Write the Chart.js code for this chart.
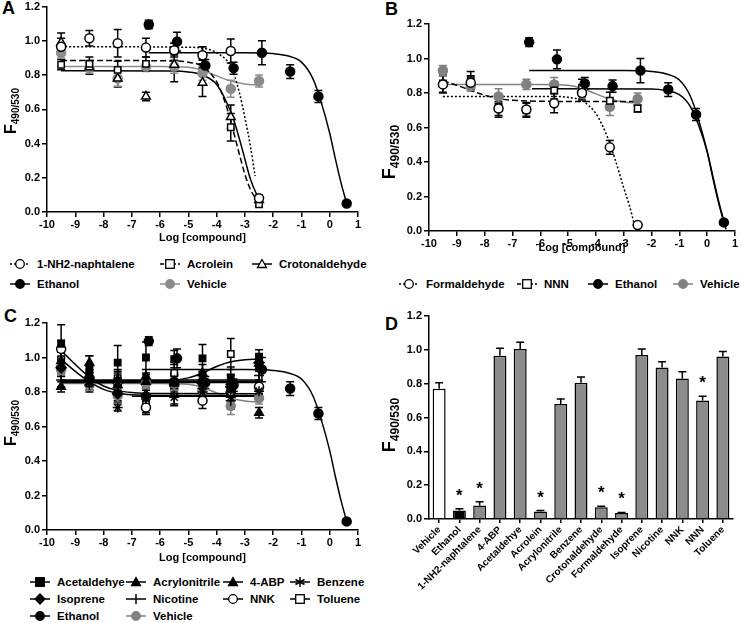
<!DOCTYPE html>
<html>
<head>
<meta charset="utf-8">
<script src="https://cdn.jsdelivr.net/npm/chart.js@4/dist/chart.umd.min.js"></script>
<style>
body{margin:0;width:741px;height:623px;position:relative;background:#fff;overflow:hidden;
  font-family:'Liberation Sans',Arial,sans-serif;font-weight:bold;color:#000}
canvas{position:absolute}
.tag{position:absolute;font-size:18px;line-height:18px}
.lg{position:absolute;font-size:11.5px;line-height:12px;display:flex;align-items:center;white-space:nowrap}
.lg svg{margin-right:7px}
</style>
</head>
<body>
<div class="tag" style="left:2px;top:-1px">A</div>
<div class="tag" style="left:385px;top:0px">B</div>
<div class="tag" style="left:4px;top:307px">C</div>
<div class="tag" style="left:385px;top:315px">D</div>
<canvas id="chartA" width="370" height="250" style="left:0;top:0"></canvas>
<canvas id="chartB" width="371" height="260" style="left:370px;top:0"></canvas>
<canvas id="chartC" width="370" height="270" style="left:0;top:300px"></canvas>
<canvas id="chartD" width="371" height="323" style="left:370px;top:300px"></canvas>
<div id="legends"></div>
<script>
// concentrations (log M) and ethanol (log %) x positions
const logX = [-9.5, -8.5, -7.5, -6.5, -5.5, -4.5, -3.5, -2.5];
const ethX = [-6.4, -5.4, -4.4, -3.4, -2.4, -1.4, -0.4, 0.6];

const ethY   = [1.095, 0.995, 0.855, 0.84, 0.93, 0.82, 0.675, 0.05];
const ethErr = [0.025, 0.055, 0.035, 0.035, 0.07, 0.04, 0.035, 0.005];
const vehY   = [0.93, 0.84, 0.78, 0.85, 0.85, 0.81, 0.72, 0.765];
const vehErr = [0.03, 0.03, 0.045, 0.03, 0.04, 0.04, 0.05, 0.035];

// panel A
const naphY   = [0.965, 1.015, 0.985, 0.96, 0.945, 0.915, 0.94, 0.08];
const naphErr = [0.05, 0.045, 0.08, 0.055, 0.04, 0.05, 0.07, 0.02];
const acroY   = [0.86, 0.865, 0.83, 0.865, 0.935, 0.905, 0.495, 0.045];
const acroErr = [0.03, 0.04, 0.05, 0.04, 0.05, 0.06, 0.08, 0.01];
const crotY   = [0.99, 0.845, 0.78, 0.675, 0.86, 0.755, 0.555, 0.07];
const crotErr = [0.055, 0.04, 0.05, 0.025, 0.1, 0.08, 0.07, 0.02];

// panel B
const formY   = [0.85, 0.86, 0.71, 0.705, 0.74, 0.8, 0.485, 0.035];
const formErr = [0.05, 0.04, 0.04, 0.04, 0.055, 0.04, 0.04, 0.005];
const nnnY    = [0.855, 0.875, 0.72, 0.7, 0.815, 0.83, 0.755, 0.71];
const nnnErr  = [0.05, 0.05, 0.06, 0.04, 0.05, 0.05, 0.05, 0.02];

// panel C
const acetY   = [1.08, 0.93, 0.97, 1.0, 0.99, 0.995, 0.885, 1.005];
const acetErr = [0.11, 0.08, 0.1, 0.09, 0.05, 0.08, 0.06, 0.04];
const acrylY  = [0.98, 0.97, 0.87, 0.89, 0.86, 0.91, 0.86, 0.68];
const acrylErr= [0.05, 0.04, 0.05, 0.04, 0.04, 0.05, 0.04, 0.03];
const abpY    = [0.83, 0.9, 0.84, 0.86, 0.85, 0.88, 0.81, 0.965];
const abpErr  = [0.03, 0.05, 0.04, 0.04, 0.05, 0.04, 0.04, 0.045];
const benzY   = [0.95, 0.86, 0.71, 0.77, 0.77, 0.8, 0.77, 0.805];
const benzErr = [0.05, 0.05, 0.02, 0.05, 0.05, 0.04, 0.05, 0.035];
const isopY   = [0.94, 0.87, 0.79, 0.78, 0.86, 0.85, 0.83, 0.97];
const isopErr = [0.05, 0.04, 0.05, 0.05, 0.05, 0.04, 0.04, 0.035];
const nicoY   = [0.87, 0.84, 0.8, 0.76, 0.78, 0.82, 0.75, 0.895];
const nicoErr = [0.04, 0.04, 0.05, 0.05, 0.05, 0.04, 0.05, 0.035];
const nnkY    = [1.05, 0.88, 0.86, 0.71, 0.86, 0.75, 0.8, 0.83];
const nnkErr  = [0.05, 0.04, 0.05, 0.04, 0.04, 0.045, 0.05, 0.04];
const tolY    = [0.99, 0.85, 0.88, 0.73, 0.91, 0.85, 1.02, 0.96];
const tolErr  = [0.05, 0.04, 0.05, 0.05, 0.05, 0.05, 0.09, 0.03];

// fitted curves
const ethFitX  = [-6.4, -3, -2, -1.5, -1, -0.6, -0.3, 0, 0.2, 0.4, 0.6];
const ethFitY  = [0.93, 0.93, 0.925, 0.912, 0.875, 0.78, 0.64, 0.46, 0.31, 0.17, 0.05];
const eth2FitX = [-6.3, -2, -1.5, -1, -0.6, -0.3, 0, 0.2, 0.4, 0.68];
const eth2FitY = [0.825, 0.823, 0.815, 0.79, 0.72, 0.61, 0.46, 0.32, 0.18, 0.01];
const vehFitX  = [-9.5, -6, -5, -4.5, -4, -3.5, -3, -2.5];
const vehFitY  = [0.85, 0.85, 0.845, 0.827, 0.795, 0.765, 0.748, 0.742];
const naphFitX = [-9.5, -5, -4.3, -3.9, -3.5, -3.2, -3.0, -2.8, -2.64];
const naphFitY = [0.965, 0.962, 0.95, 0.92, 0.85, 0.7, 0.55, 0.38, 0.21];
const acroFitX = [-9.5, -5.5, -5, -4.5, -4, -3.7, -3.5, -3.2, -3, -2.8, -2.5];
const acroFitY = [0.885, 0.882, 0.875, 0.85, 0.76, 0.64, 0.53, 0.34, 0.22, 0.13, 0.05];
const crotFitX = [-9.5, -5.5, -5, -4.5, -4, -3.7, -3.4, -3.1, -2.8, -2.5];
const crotFitY = [0.825, 0.824, 0.818, 0.8, 0.745, 0.66, 0.54, 0.37, 0.19, 0.07];
const formFitX = [-9.5, -5.6, -5, -4.5, -4, -3.6, -3.3, -3, -2.8, -2.62];
const formFitY = [0.78, 0.78, 0.775, 0.755, 0.68, 0.55, 0.41, 0.25, 0.15, 0.04];
const nnnFitX  = [-9.5, -9, -8.5, -8, -7.5, -7, -6, -2.5];
const nnnFitY  = [0.87, 0.845, 0.815, 0.787, 0.767, 0.758, 0.752, 0.75];
const acetFitX = [-9.5, -6.5, -5.5, -5, -4.5, -4, -3.5, -3, -2.5];
const acetFitY = [0.865, 0.865, 0.87, 0.882, 0.91, 0.948, 0.975, 0.987, 0.99];
const abpFitX  = [-9.5, -2.5];
const abpFitY  = [0.87, 0.87];
const isopFitX = [-9.5, -2.5];
const isopFitY = [0.862, 0.862];
const acrylFitX= [-9.5, -2.5];
const acrylFitY= [0.855, 0.855];
const nnkFitX  = [-9.5, -9, -8.5, -8, -7.5, -7, -6, -2.5];
const nnkFitY  = [1.04, 0.96, 0.885, 0.835, 0.808, 0.797, 0.791, 0.79];
const nicoFitX = [-9.5, -9, -8.5, -8, -7.5, -7, -6, -2.5];
const nicoFitY = [0.99, 0.92, 0.86, 0.815, 0.793, 0.784, 0.78, 0.78];
const benzFitX = [-7, -2.5];
const benzFitY = [0.775, 0.775];

// panel D (highest concentration)
const barLabels = ['Vehicle', 'Ethanol', '1-NH2-naphtalene', '4-ABP', 'Acetaldehye', 'Acrolein',
  'Acrylonitrile', 'Benzene', 'Crotonaldehyde', 'Formaldehyde', 'Isoprene', 'Nicotine', 'NNK', 'NNN', 'Toluene'];
const barValues = [0.77, 0.05, 0.08, 0.965, 1.005, 0.045, 0.68, 0.805, 0.07, 0.035, 0.97, 0.895, 0.83, 0.70, 0.96];
const barErr    = [0.035, 0.01, 0.022, 0.045, 0.04, 0.005, 0.03, 0.035, 0.005, 0.004, 0.035, 0.035, 0.04, 0.025, 0.03];
const barStar   = [false, true, true, false, false, true, false, false, true, true, false, false, false, true, false];

const FONT = "'Liberation Sans', Arial, sans-serif";
const GRAY = '#8c8c8c';
const DOT = [2, 2];
const DASH = [6, 3];

function pts(xs, ys) {
    return xs.map((x, i) => ({x: x, y: ys[i]}));
}
function marks(xs, ys, err, style, fill, color, r) {
    return {data: pts(xs, ys), err: err, showLine: false, pointStyle: style,
        pointRadius: r || 4, pointHoverRadius: r || 4, backgroundColor: fill,
        borderColor: color, borderWidth: 1.5};
}
function fit(xs, ys, dash, color) {
    return {data: pts(xs, ys), showLine: true, pointRadius: 0, pointHoverRadius: 0,
        borderColor: color || '#000', borderWidth: 1.5, borderDash: dash || [],
        cubicInterpolationMode: 'monotone', fill: false};
}

// error bars drawn through the y scale
const errorBars = {
    id: 'errorBars',
    beforeDatasetsDraw(chart) {
        if (chart.config.type === 'bar') return;
        drawErr(chart, false);
    },
    afterDatasetsDraw(chart) {
        if (chart.config.type !== 'bar') return;
        drawErr(chart, true);
    }
};
function drawErr(chart, upOnly) {
    const ctx = chart.ctx, ys = chart.scales.y;
    chart.data.datasets.forEach((ds, i) => {
        if (!ds.err) return;
        const meta = chart.getDatasetMeta(i);
        ctx.save();
        ctx.lineWidth = 1.5;
        meta.data.forEach((el, j) => {
            const v = typeof ds.data[j] === 'object' ? ds.data[j].y : ds.data[j];
            const top = ys.getPixelForValue(v + ds.err[j]);
            const bot = upOnly ? ys.getPixelForValue(v) : ys.getPixelForValue(v - ds.err[j]);
            ctx.strokeStyle = upOnly ? '#000' : ds.borderColor;
            ctx.beginPath();
            ctx.moveTo(el.x, top); ctx.lineTo(el.x, bot);
            ctx.moveTo(el.x - 4, top); ctx.lineTo(el.x + 4, top);
            if (!upOnly) { ctx.moveTo(el.x - 4, bot); ctx.lineTo(el.x + 4, bot); }
            ctx.stroke();
            if (upOnly && ds.star && ds.star[j]) {
                ctx.fillStyle = '#000';
                ctx.font = 'bold 17px ' + FONT;
                ctx.textAlign = 'center';
                ctx.textBaseline = 'alphabetic';
                ctx.fillText('*', el.x, top - 8);
            }
        });
        ctx.restore();
    });
}

// rotated F490/530 title with subscript
const yTitle = {
    id: 'yTitle',
    afterDraw(chart, args, o) {
        const ctx = chart.ctx;
        ctx.save();
        ctx.translate(o.x, o.y);
        ctx.rotate(-Math.PI / 2);
        ctx.fillStyle = '#000';
        ctx.textBaseline = 'alphabetic';
        ctx.textAlign = 'left';
        ctx.font = 'bold ' + o.big + 'px ' + FONT;
        const wF = ctx.measureText('F').width;
        ctx.font = 'bold ' + o.small + 'px ' + FONT;
        const wS = ctx.measureText('490/530').width;
        const start = -(wF + wS) / 2;
        const base = o.big * 0.36;
        ctx.font = 'bold ' + o.big + 'px ' + FONT;
        ctx.fillText('F', start, base);
        ctx.font = 'bold ' + o.small + 'px ' + FONT;
        ctx.fillText('490/530', start + wF, base + o.small * 0.3);
        ctx.restore();
    }
};

const tickFont = {family: FONT, size: 11, weight: 'bold'};

function xLog(h) {
    return {
        type: 'linear', min: -10, max: 1,
        ticks: {stepSize: 1, color: '#000', font: tickFont, padding: 1},
        grid: {drawOnChartArea: false, color: '#000', lineWidth: 1.5, tickLength: 5},
        border: {color: '#000', width: 1.5},
        title: {display: true, text: 'Log [compound]', color: '#000',
            font: {family: FONT, size: 11, weight: 'bold'}, padding: {top: 0, bottom: 5}},
        afterFit(s) { s.height = h; s.paddingLeft = 0; s.paddingRight = 0; }
    };
}
function yF(w) {
    return {
        type: 'linear', min: 0, max: 1.2,
        ticks: {stepSize: 0.2, color: '#000', font: tickFont, padding: 2, callback: v => v.toFixed(1)},
        grid: {drawOnChartArea: false, color: '#000', lineWidth: 1.5, tickLength: 5},
        border: {color: '#000', width: 1.5},
        afterFit(s) { s.width = w; s.paddingTop = 0; s.paddingBottom = 0; }
    };
}
function baseOptions(pad, xScale, yScale, title) {
    return {
        responsive: false, animation: false,
        layout: {padding: pad},
        scales: {x: xScale, y: yScale},
        plugins: {legend: {display: false}, tooltip: {enabled: false}, yTitle: title}
    };
}

// A
new Chart(document.getElementById('chartA'), {
    type: 'scatter',
    data: {datasets: [
        marks(ethX, ethY, ethErr, 'circle', '#000', '#000', 4.5),
        marks(logX, naphY, naphErr, 'circle', '#fff', '#000', 4.5),
        marks(logX, acroY, acroErr, 'rect', '#fff', '#000', 4.5),
        marks(logX, crotY, crotErr, 'triangle', '#fff', '#000', 5),
        marks(logX, vehY, vehErr, 'circle', GRAY, GRAY, 4.5),
        fit(ethFitX, ethFitY),
        fit(naphFitX, naphFitY, DOT),
        fit(acroFitX, acroFitY, DASH),
        fit(crotFitX, crotFitY),
        fit(vehFitX, vehFitY, [], GRAY)
    ]},
    options: baseOptions({top: 5, right: 12, left: 0, bottom: 0}, xLog(38), yF(47),
        {x: 10, y: 111, big: 16, small: 10}),
    plugins: [errorBars, yTitle]
});

// B
new Chart(document.getElementById('chartB'), {
    type: 'scatter',
    data: {datasets: [
        marks(ethX, ethY, ethErr, 'circle', '#000', '#000', 4.5),
        marks(logX, formY, formErr, 'circle', '#fff', '#000', 4.5),
        marks(logX, nnnY, nnnErr, 'rect', '#fff', '#000', 4.5),
        marks(logX, vehY, vehErr, 'circle', '#808080', '#808080', 4.5),
        fit(ethFitX, ethFitY),
        fit(eth2FitX, eth2FitY),
        fit(formFitX, formFitY, DOT),
        fit(nnnFitX, nnnFitY, DASH),
        fit(vehFitX, vehFitY, [], '#808080')
    ]},
    options: baseOptions({top: 24, right: 2, left: 0, bottom: 0}, xLog(29), yF(59),
        {x: 19, y: 152, big: 18, small: 12}),
    plugins: [errorBars, yTitle]
});

// C
new Chart(document.getElementById('chartC'), {
    type: 'scatter',
    data: {datasets: [
        marks(ethX, ethY, ethErr, 'circle', '#000', '#000', 4.5),
        marks(logX, acetY, acetErr, 'rect', '#000', '#000', 4.5),
        marks(logX, acrylY, acrylErr, 'triangle', '#000', '#000', 5),
        marks(logX, abpY, abpErr, 'triangle', '#000', '#000', 5),
        marks(logX, benzY, benzErr, 'star', '#000', '#000', 5),
        marks(logX, isopY, isopErr, 'rectRot', '#000', '#000', 5),
        marks(logX, nicoY, nicoErr, 'cross', '#000', '#000', 5),
        marks(logX, nnkY, nnkErr, 'circle', '#fff', '#000', 4.5),
        marks(logX, tolY, tolErr, 'rect', '#fff', '#000', 4.5),
        marks(logX, vehY, vehErr, 'circle', '#808080', '#808080', 4.5),
        fit(ethFitX, ethFitY),
        fit(acetFitX, acetFitY),
        fit(abpFitX, abpFitY),
        fit(isopFitX, isopFitY),
        fit(acrylFitX, acrylFitY),
        fit(nnkFitX, nnkFitY),
        fit(nicoFitX, nicoFitY),
        fit(benzFitX, benzFitY),
        fit(vehFitX, vehFitY, [], '#808080')
    ]},
    options: baseOptions({top: 23, right: 12, left: 0, bottom: 0}, xLog(40), yF(47),
        {x: 10, y: 123, big: 16, small: 10}),
    plugins: [errorBars, yTitle]
});

// D
const barColors = barLabels.map(l => l === 'Vehicle' ? '#fff' : (l === 'Ethanol' ? '#000' : GRAY));
const dOpts = baseOptions({top: 16, right: 8, left: 0, bottom: 0}, {
    type: 'category',
    ticks: {color: '#000', font: {family: FONT, size: 10, weight: 'bold'}, minRotation: 45, maxRotation: 45,
        autoSkip: false, padding: 1},
    grid: {drawOnChartArea: false, offset: false, color: '#000', lineWidth: 1.5, tickLength: 4},
    border: {color: '#000', width: 1.5},
    afterFit(s) { s.height = 104; s.paddingLeft = 0; s.paddingRight = 0; }
}, yF(59), {x: 19, y: 125, big: 18, small: 12});
new Chart(document.getElementById('chartD'), {
    type: 'bar',
    data: {labels: barLabels, datasets: [{
        data: barValues, err: barErr, star: barStar,
        backgroundColor: barColors, borderColor: '#000', borderWidth: 1.5,
        categoryPercentage: 1, barPercentage: 0.64
    }]},
    options: dOpts,
    plugins: [errorBars, yTitle]
});

// legends
function sym(shape, fill, color, dash) {
    let s = '<svg width="20" height="12" viewBox="0 0 20 12">' +
        '<line x1="0" y1="6" x2="20" y2="6" stroke="' + color + '" stroke-width="1.5"' +
        (dash ? ' stroke-dasharray="' + dash + '"' : '') + '/>';
    const st = ' fill="' + fill + '" stroke="' + color + '" stroke-width="1.3"';
    if (shape === 'circle') s += '<circle cx="10" cy="6" r="4.3"' + st + '/>';
    if (shape === 'rect') s += '<rect x="5.7" y="1.7" width="8.6" height="8.6"' + st + '/>';
    if (shape === 'triangle') s += '<polygon points="10,1.5 14.5,9.5 5.5,9.5"' + st + '/>';
    if (shape === 'rectRot') s += '<polygon points="10,1 15,6 10,11 5,6"' + st + '/>';
    if (shape === 'cross') s += '<line x1="10" y1="1" x2="10" y2="11" stroke="' + color + '" stroke-width="1.5"/>';
    if (shape === 'star') s += '<path d="M10 1V11M5.5 3.5L14.5 8.5M14.5 3.5L5.5 8.5" stroke="' + color + '" stroke-width="1.5"/>';
    return s + '</svg>';
}
const legendItems = [
    [10, 264, 'circle', '#fff', '#000', '2,2', '1-NH2-naphtalene'],
    [160, 264, 'rect', '#fff', '#000', '4,2', 'Acrolein'],
    [252, 264, 'triangle', '#fff', '#000', '', 'Crotonaldehyde'],
    [10, 284, 'circle', '#000', '#000', '', 'Ethanol'],
    [160, 284, 'circle', GRAY, GRAY, '', 'Vehicle'],
    [399, 284, 'circle', '#fff', '#000', '2,2', 'Formaldehyde'],
    [517, 284, 'rect', '#fff', '#000', '4,2', 'NNN'],
    [588, 284, 'circle', '#000', '#000', '', 'Ethanol'],
    [673, 284, 'circle', '#808080', '#808080', '', 'Vehicle'],
    [30, 582, 'rect', '#000', '#000', '', 'Acetaldehye'],
    [126, 582, 'triangle', '#000', '#000', '', 'Acrylonitrile'],
    [223, 582, 'triangle', '#000', '#000', '', '4-ABP'],
    [290, 582, 'star', '#000', '#000', '', 'Benzene'],
    [30, 599, 'rectRot', '#000', '#000', '', 'Isoprene'],
    [126, 599, 'cross', '#000', '#000', '', 'Nicotine'],
    [223, 599, 'circle', '#fff', '#000', '', 'NNK'],
    [290, 599, 'rect', '#fff', '#000', '', 'Toluene'],
    [30, 616, 'circle', '#000', '#000', '', 'Ethanol'],
    [126, 616, 'circle', '#808080', '#808080', '', 'Vehicle']
];
const lgBox = document.getElementById('legends');
legendItems.forEach(it => {
    const d = document.createElement('div');
    d.className = 'lg';
    d.style.left = it[0] + 'px';
    d.style.top = (it[1] - 6) + 'px';
    d.innerHTML = sym(it[2], it[3], it[4], it[5]) + '<span>' + it[6] + '</span>';
    lgBox.appendChild(d);
});
</script>
</body>
</html>
